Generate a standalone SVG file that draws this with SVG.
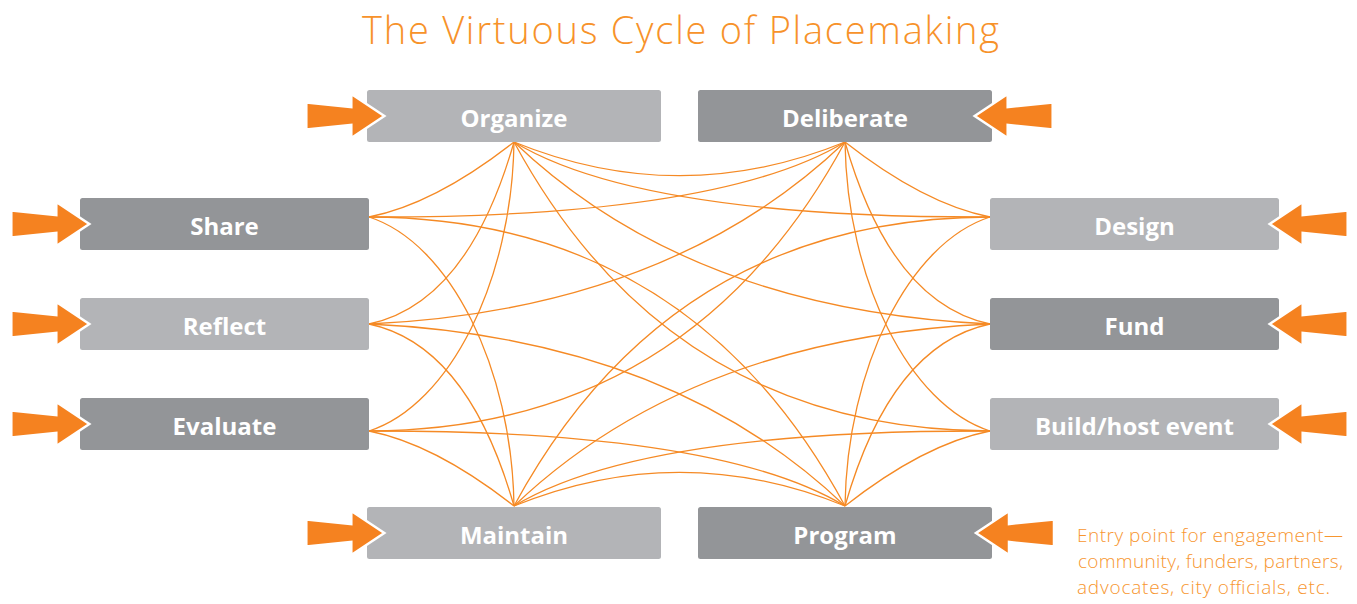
<svg xmlns="http://www.w3.org/2000/svg" xmlns:xlink="http://www.w3.org/1999/xlink" width="1357" height="604" viewBox="0 0 1357 604">
<style>
.title{font-family:"Open Sans","Liberation Sans",sans-serif;font-weight:300;font-size:38px;fill:#F7922A}
.box-l{fill:#B3B4B7}
.box-d{fill:#939598}
.lbl{font-family:"Open Sans","Liberation Sans",sans-serif;font-weight:700;font-size:24px;fill:#FFFFFF;text-anchor:middle}
.edge{fill:none;stroke:#F58A25;stroke-width:1.3}
.arr{fill:#F58220;stroke:#FFFFFF;stroke-width:2.5;stroke-linejoin:miter}
.note{font-family:"Open Sans","Liberation Sans",sans-serif;font-weight:300;font-size:19px;fill:#F7962F}
</style>
<defs>
<path id="arrow" d="M-78,-13.5 L-33,-9 L-33,-22 L0,0 L-33,22 L-33,9 L-78,13.5 Z"/>
</defs>
<rect width="1357" height="604" fill="#FFFFFF"/>
<text class="title" x="362" y="43.5" textLength="637">The Virtuous Cycle of Placemaking</text>

<g id="connectors">
<path class="edge" d="M514,142 Q679.5,209.4 845,142"/>
<path class="edge" d="M514,506 Q679.5,438.6 845,506"/>
<path class="edge" d="M514,142 Q435,204 369,217"/>
<path class="edge" d="M845,142 Q924,204 990,217"/>
<path class="edge" d="M514,506 Q435,444 369,431"/>
<path class="edge" d="M845,506 Q924,444 990,431"/>
<path class="edge" d="M514,142 Q468,303 369,324"/>
<path class="edge" d="M845,142 Q891,303 990,324"/>
<path class="edge" d="M514,506 Q468,345 369,324"/>
<path class="edge" d="M845,506 Q891,345 990,324"/>
<path class="edge" d="M514,142 C512,280 450,405 369,431"/>
<path class="edge" d="M845,142 C847,280 909,405 990,431"/>
<path class="edge" d="M514,506 C512,368 450,243 369,217"/>
<path class="edge" d="M845,506 C847,368 909,243 990,217"/>
<path class="edge" d="M514,142 Q640,218 990,217"/>
<path class="edge" d="M845,142 Q719,218 369,217"/>
<path class="edge" d="M514,506 Q640,430 990,431"/>
<path class="edge" d="M845,506 Q719,430 369,431"/>
<path class="edge" d="M514,142 Q690,310 990,324"/>
<path class="edge" d="M845,142 Q669,310 369,324"/>
<path class="edge" d="M514,506 Q690,338 990,324"/>
<path class="edge" d="M845,506 Q669,338 369,324"/>
<path class="edge" d="M514,142 Q670,430 990,431"/>
<path class="edge" d="M845,142 Q689,430 369,431"/>
<path class="edge" d="M514,506 Q670,218 990,217"/>
<path class="edge" d="M845,506 Q689,218 369,217"/>
</g>

<g id="organize">
<rect class="box-l" x="367" y="90" width="294" height="52" rx="2.5"/>
<use class="arr" href="#arrow" xlink:href="#arrow" transform="translate(384.3,116)"/>
<text class="lbl" x="514" y="126.5">Organize</text>
</g>
<g id="deliberate">
<rect class="box-d" x="698" y="90" width="294" height="52" rx="2.5"/>
<use class="arr" href="#arrow" xlink:href="#arrow" transform="translate(974.7,116) scale(-1,1)"/>
<text class="lbl" x="845" y="126.5">Deliberate</text>
</g>
<g id="share">
<rect class="box-d" x="80" y="198" width="289" height="52" rx="2.5"/>
<use class="arr" href="#arrow" xlink:href="#arrow" transform="translate(89.3,224)"/>
<text class="lbl" x="224.5" y="234.5">Share</text>
</g>
<g id="reflect">
<rect class="box-l" x="80" y="298" width="289" height="52" rx="2.5"/>
<use class="arr" href="#arrow" xlink:href="#arrow" transform="translate(89.3,324)"/>
<text class="lbl" x="224.5" y="334.5">Reflect</text>
</g>
<g id="evaluate">
<rect class="box-d" x="80" y="398" width="289" height="52" rx="2.5"/>
<use class="arr" href="#arrow" xlink:href="#arrow" transform="translate(89.3,424)"/>
<text class="lbl" x="224.5" y="434.5">Evaluate</text>
</g>
<g id="design">
<rect class="box-l" x="990" y="198" width="289" height="52" rx="2.5"/>
<use class="arr" href="#arrow" xlink:href="#arrow" transform="translate(1269.7,224) scale(-1,1)"/>
<text class="lbl" x="1134.5" y="234.5">Design</text>
</g>
<g id="fund">
<rect class="box-d" x="990" y="298" width="289" height="52" rx="2.5"/>
<use class="arr" href="#arrow" xlink:href="#arrow" transform="translate(1269.7,324) scale(-1,1)"/>
<text class="lbl" x="1134.5" y="334.5">Fund</text>
</g>
<g id="build">
<rect class="box-l" x="990" y="398" width="289" height="52" rx="2.5"/>
<use class="arr" href="#arrow" xlink:href="#arrow" transform="translate(1269.7,424) scale(-1,1)"/>
<text class="lbl" x="1134.5" y="434.5">Build/host event</text>
</g>
<g id="maintain">
<rect class="box-l" x="367" y="507" width="294" height="52" rx="2.5"/>
<use class="arr" href="#arrow" xlink:href="#arrow" transform="translate(384.3,533)"/>
<text class="lbl" x="514" y="543.5">Maintain</text>
</g>
<g id="program">
<rect class="box-d" x="698" y="507" width="294" height="52" rx="2.5"/>
<use class="arr" href="#arrow" xlink:href="#arrow" transform="translate(976,533) scale(-1,1)"/>
<text class="lbl" x="845" y="543.5">Program</text>
</g>

<g id="note">
<text class="note" x="1077" y="542" textLength="266">Entry point for engagement—</text>
<text class="note" x="1078" y="568" textLength="265">community, funders, partners,</text>
<text class="note" x="1077" y="594" textLength="253">advocates, city officials, etc.</text>
</g>
</svg>
